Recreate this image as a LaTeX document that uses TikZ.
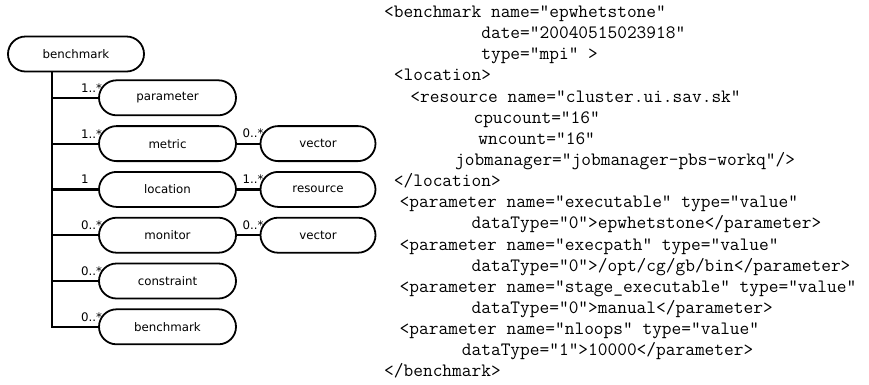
\documentclass[tikz,border=0pt]{standalone}
\usepackage{fontspec}
\newfontfamily\diagfont{DejaVu Sans}
\usetikzlibrary{positioning}

\newcommand{\ind}[1]{\hspace*{#1\fontcharwd\font`x}}

\begin{document}
\begin{tikzpicture}
    [
        x=1pt, y=-1pt,
        node distance=45.8pt and 150.5pt, on grid,
        elem/.style={rectangle, rounded corners=17.5pt, draw=black, line width=1.8pt, minimum height=35pt, minimum width=137pt, font=\diagfont\fontsize{11.8}{14}\selectfont},
        leaf/.style={elem, minimum width=115pt},
        link/.style={line width=2.2pt, color=black},
        mult/.style={anchor=south west, inner sep=0pt, xshift=-18pt, yshift=4.5pt, font=\diagfont\fontsize{11.8}{14}\selectfont},
        code/.style={anchor=north west, align=left, inner sep=0pt, font=\fontsize{18.86}{21.15}\selectfont\ttfamily},
    ]
        \useasboundingbox (0,0) rectangle (869,384);
        % schema tree
        \node[elem, minimum width=136pt] (root) at (76,54) {benchmark} ;
        \node[elem] (parameter) at (167.5,97.8) {parameter} ;
        \node[elem] (metric) [below = of parameter] {metric} ;
        \node[elem] (location) [below = of metric] {location} ;
        \node[elem] (monitor) [below = of location] {monitor} ;
        \node[elem] (constraint) [below = of monitor] {constraint} ;
        \node[elem] (subbench) [below = of constraint] {benchmark} ;
        \node[leaf] (mvector) [right = of metric] {vector} ;
        \node[leaf] (resource) [right = of location] {resource} ;
        \node[leaf] (nvector) [right = of monitor] {vector} ;
        \coordinate (trunk) at ([xshift=-24pt]root.south) ;
        \draw[link] (trunk) |- (parameter.west) node[mult, pos=1] {1..*} ;
        \draw[link] (trunk) |- (metric.west) node[mult, pos=1] {1..*} ;
        \draw[link] (trunk) |- (location.west) node[mult, pos=1] {1} ;
        \draw[link] (trunk) |- (monitor.west) node[mult, pos=1] {0..*} ;
        \draw[link] (trunk) |- (constraint.west) node[mult, pos=1] {0..*} ;
        \draw[link] (trunk) |- (subbench.west) node[mult, pos=1] {0..*} ;
        \draw[link] (metric) -- (mvector) node[mult, pos=1] {0..*} ;
        \draw[link] (location) -- (resource) node[mult, pos=1] {1..*} ;
        \draw[link] (monitor) -- (nvector) node[mult, pos=1] {0..*} ;
        % xml instance
        \node[code] (xml) at (384,5.5) {<benchmark name="epwhetstone"\\
\ind{10}date="20040515023918"\\
\ind{10}type="mpi" >\\
\ind{1}<location>\\
\ind{2.7}<resource name="cluster.ui.sav.sk"\\
\ind{9.2}cpucount="16"\\
\ind{9.7}wncount="16"\\
\ind{7.3}jobmanager="jobmanager-pbs-workq"/>\\
\ind{1}</location>\\
\ind{1.6}<parameter name="executable" type="value"\\
\ind{9}dataType="0">epwhetstone</parameter>\\
\ind{1.6}<parameter name="execpath" type="value"\\
\ind{9}dataType="0">/opt/cg/gb/bin</parameter>\\
\ind{1.6}<parameter name="stage\_executable" type="value"\\
\ind{9}dataType="0">manual</parameter>\\
\ind{1.6}<parameter name="nloops" type="value"\\
\ind{8}dataType="1">10000</parameter>\\
</benchmark>} ;
\end{tikzpicture}
\end{document}
